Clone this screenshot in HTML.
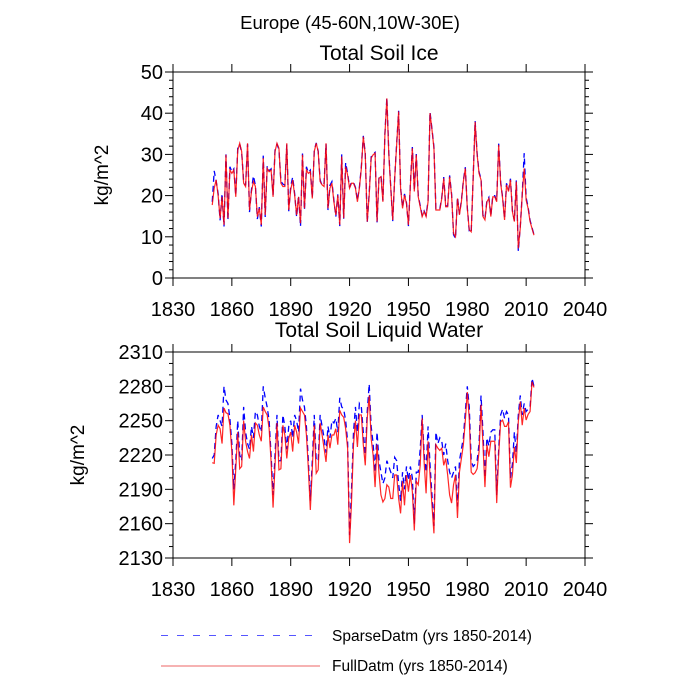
<!DOCTYPE html>
<html><head><meta charset="utf-8"><style>
html,body{margin:0;padding:0;background:#fff;}
svg{display:block;font-family:"Liberation Sans",sans-serif;}
</style></head><body>
<svg id="c" width="700" height="700" viewBox="0 0 700 700">
<text x="350" y="29" font-size="18.5" text-anchor="middle">Europe (45-60N,10W-30E)</text>
<text x="379" y="60" font-size="21" text-anchor="middle">Total Soil Ice</text>
<text x="379" y="337" font-size="21" text-anchor="middle">Total Soil Liquid Water</text>
<text transform="translate(108,175) rotate(-90)" font-size="19" text-anchor="middle">kg/m^2</text>
<text transform="translate(84,455) rotate(-90)" font-size="19" text-anchor="middle">kg/m^2</text>
<g>
<line x1="161" y1="635.5" x2="320" y2="635.5" stroke="#5555ff" stroke-width="1" stroke-dasharray="7,9"/>
<text x="332" y="641" font-size="15.5">SparseDatm (yrs 1850-2014)</text>
<line x1="161" y1="666" x2="320" y2="666" stroke="#ee6666" stroke-width="1"/>
<text x="332" y="671" font-size="15.5">FullDatm (yrs 1850-2014)</text>
</g>
</svg>
<script>
const startYear = 1850;
const xTicks = [1830,1860,1890,1920,1950,1980,2010,2040];
const iceTicks = [0,10,20,30,40,50];
const liqTicks = [2130,2160,2190,2220,2250,2280,2310];
const iceFull = [17.7,21.8,23.8,20,14.5,19.7,12.9,29.9,14.5,26.2,
25.4,26.2,19.7,31,32.7,30.7,23,22.2,32.7,16.5,
21,23.4,22.2,14.9,16.9,12.9,29.1,15.3,26.6,25.8,
26.2,19.7,30.7,32.7,31.5,23,22.2,22.2,32.7,16.5,
21.4,23.8,20.1,15.3,19.7,13.3,29.9,16.9,26.2,25.4,
25.8,19.3,30.7,32.7,30.7,23.4,22.6,22.2,32.7,16.9,
21.8,23,18.5,15.3,20.1,12.9,29.5,14.5,27,25,
21.8,23,23,21.8,18.5,21.8,26.6,34.3,29.9,13.7,
20.1,29.1,29.9,30.3,13.7,24.2,24.6,18.5,34.7,43.6,30,
21.8,14.1,24.2,32.3,40.4,21.8,16.9,20.1,18.1,12.9,
22.6,31.5,21,29.9,19.7,17.3,14.9,16.1,14.9,18.5,
40,36,31.5,16.5,16.5,16.5,19.3,24.2,17.3,17.3,24.6,
20.1,10.8,10,19.3,15.3,18.5,23.4,26.6,16.9,11.7,
11.2,24.2,37.9,30,25.4,23.8,14.9,14.1,18.5,19.3,14.9,
19.7,19.7,18.5,32.3,23,19.3,14.1,22.6,21,23.8,
16.1,13.7,23.4,7.2,12.1,20.1,26.6,18.9,16.9,13.7,12,10.4];
const iceSparse = [18.5,26,23.5,20.5,14,20.5,12.5,30,14,27,
25.8,26.5,20,31.5,32.5,30.5,23.5,22.5,32.5,16,
21.5,24.8,22.5,14.3,17.2,12.5,29.7,14.8,27.2,26,
26.5,20.2,31,32.5,31.2,23.5,22.8,22.5,32.4,16.2,
22.3,24.5,20.5,14.8,20,12.5,30.2,16.5,27,25.6,
26.2,19.5,31,32.8,30.8,23.8,22.4,23,32.5,16.5,
22.5,23.4,18.9,14.9,20.3,12.6,30,14.4,28,25.4,
22,23.3,23.2,22,18.8,22,27,34.5,30.2,13.5,
20.5,29.4,30.1,30.5,13.5,24.5,24.9,18.8,35,43.8,30.5,
22,13.8,24.5,32.6,40.6,22,17.1,20.4,18.3,12.6,
23,31.8,21.3,30.1,20,17.6,15.2,16.3,15.2,18.8,
40.3,36.2,31.8,16.8,16.8,16.8,19.6,24.5,17.5,17.5,24.9,
20.4,10.5,9.6,19.6,15.6,18.8,23.7,26.9,17.2,11.4,
11,24.5,38.1,30.3,25.7,24.1,15.2,14.4,18.8,19.6,15.2,
20,20,18.8,32.6,23.3,19.6,14.4,23,21.3,24.1,
16.4,13.9,23.7,6.5,12.4,20.4,30.3,19.5,17.2,14,12.2,10.5];
const liqFull = [2213.3,2212.7,2237.5,2246,2243,2230,2261,2257,2256,2246,
2223,2176,2208,2240,2208,2210,2250,2232,2223,2217,
2237.5,2223,2248,2246,2237.5,2232,2262,2258,2255,2243,
2214,2174,2211,2248,2207,2208,2246,2237.5,2217,2234.5,
2240,2223,2246,2240,2230,2261,2258,2255,2237.5,2208,
2172,2208,2246,2204,2207,2248,2237.5,2226,2214,2237.5,
2226,2237.5,2237.5,2243,2229,2259,2255,2253,2243,2226,
2143,2179,2229,2250,2227,2255,2255,2229,2211,2252,
2272,2234.5,2220,2192,2229,2204,2185,2179,2182,2194,
2192,2182,2182,2202.5,2202.5,2182,2169,2197,2176,2202.5,
2188,2202.5,2188,2154,2197,2194,2211,2252,2214,2186.5,
2232,2202.5,2176,2151.5,2229,2226,2224,2226,2211,2217,
2202.5,2185,2178,2194,2202.5,2165,2205,2217,2229,2250,
2275,2252,2205,2203,2204.5,2208,2223,2264,2229,2192,
2229,2218.5,2232,2232,2232,2178,2220,2249,2250.5,2245,
2245,2249,2191.5,2202.5,2227,2213,2249,2266.6,2246,2261,
2250.5,2255.5,2258,2284,2279];
const liqSparse = [2217,2220,2245,2255,2250,2245,2280,2268,2265,2252,
2230,2190,2215,2250,2220,2215,2262,2240,2230,2225,
2245,2235,2258,2255,2245,2240,2280,2270,2262,2250,
2220,2185,2220,2255,2215,2215,2255,2245,2225,2245,
2250,2235,2255,2250,2240,2278,2268,2262,2245,2215,
2180,2215,2255,2215,2215,2255,2245,2235,2222,2245,
2235,2250,2248,2252,2240,2270,2262,2260,2250,2232,
2150,2190,2240,2262,2240,2265,2262,2240,2220,2258,
2282,2245,2230,2205,2240,2215,2205,2195,2200,2215,
2210,2205,2200,2218,2215,2195,2180,2205,2190,2210,
2198,2210,2200,2160,2205,2205,2225,2255,2222,2205,
2245,2212,2185,2158,2240,2230,2235,2232,2220,2230,
2215,2205,2200,2205,2210,2175,2215,2225,2235,2258,
2280,2262,2215,2210,2212,2215,2230,2272,2240,2200,
2235,2228,2240,2242,2242,2185,2225,2255,2260,2252,
2258,2255,2200,2212,2240,2222,2255,2272,2255,2265,
2258,2260,2262,2287,2280];

const svg = document.getElementById('c');
const NS = 'http://www.w3.org/2000/svg';
function mk(tag, attrs){const e=document.createElementNS(NS,tag);for(const k in attrs)e.setAttribute(k,attrs[k]);svg.appendChild(e);return e;}
const X0=173,X1=585;
function xs(yr){return X0+(yr-1830)/(2040-1830)*(X1-X0);}

function panel(prefix, top, bot, ymin, ymax, yticks, minorStep, full, sparse){
  const ys = v => bot-(v-ymin)/(ymax-ymin)*(bot-top);
  const frame = mk('rect',{x:X0,y:top,width:X1-X0,height:bot-top,fill:'none',stroke:'#000','stroke-width':1});
  
  
  xTicks.forEach(t=>{
    const x=xs(t);
    const a=mk('line',{x1:x,y1:bot,x2:x,y2:bot+8,stroke:'#000'});
    
    
    const b=mk('line',{x1:x,y1:top,x2:x,y2:top-8,stroke:'#000'});
    
    
    const l=mk('text',{x:x,y:bot+38,'font-size':20,'text-anchor':'middle'});
    l.textContent=t;
    
    
  });
  for(let v=ymin; v<=ymax+1e-9; v+=minorStep){
    const y=ys(v);
    const major = yticks.indexOf(Math.round(v))>=0 && Math.abs(v-Math.round(v))<1e-6;
    const len = major?8:4;
    const a=mk('line',{x1:X0,y1:y,x2:X0-len,y2:y,stroke:'#000'});
    
    
    const b=mk('line',{x1:X1,y1:y,x2:X1+len,y2:y,stroke:'#000'});
    
    
  }
  yticks.forEach(t=>{
    const l=mk('text',{x:X0-10,y:ys(t)+7,'font-size':20,'text-anchor':'end'});
    l.textContent=t;
    
    
  });
  const path = arr => arr.map((v,i)=>(i?'L':'M')+xs(startYear+i).toFixed(2)+','+ys(v).toFixed(2)).join('');
  const s=mk('path',{d:path(sparse),fill:'none',stroke:'#0000ff','stroke-width':1.3,'stroke-dasharray':'6,4'});
  
  
  const f=mk('path',{d:path(full),fill:'none',stroke:'#ff0000','stroke-width':1.2,'stroke-opacity':0.85});
  
  
}
panel('ice', 72, 278, 0, 50, iceTicks, 2, iceFull, iceSparse);
panel('liquid', 352, 558, 2130, 2310, liqTicks, 10, liqFull, liqSparse);
</script>
</body></html>
